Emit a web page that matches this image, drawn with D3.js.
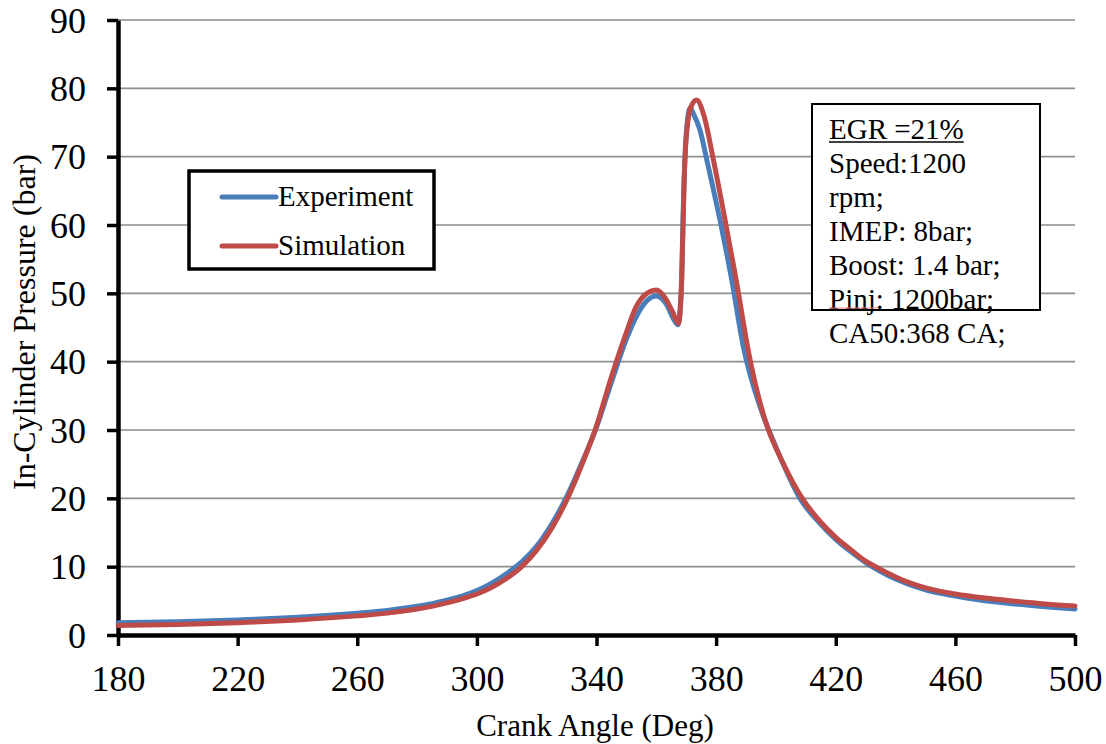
<!DOCTYPE html>
<html>
<head>
<meta charset="utf-8">
<script src="https://cdn.jsdelivr.net/npm/d3@7"></script>
<style>
  html, body { margin: 0; padding: 0; background: #fff; }
  svg text { font-family: "Liberation Serif", "Times New Roman", serif; fill: #000; }
</style>
</head>
<body>
<svg id="chart" width="1106" height="744"></svg>
<script>
// Crank-angle resolved in-cylinder pressure, measured vs simulated
const expAngle = [180, 200, 220, 240, 260, 270, 280, 290, 295, 300, 305, 310, 315, 320, 325, 330, 335, 340, 345, 350, 354.6, 357, 360, 363.5, 365.7, 367.2, 368.3, 369, 369.8, 371.3, 372.5, 374.6, 376.9, 381.3, 385.2, 389.1, 395, 400, 408, 415, 420, 425, 430, 435, 440, 450, 460, 470, 480, 490, 500];
const expPressure = [1.8, 1.95, 2.2, 2.6, 3.2, 3.6, 4.2, 5.1, 5.7, 6.5, 7.6, 9.0, 10.7, 13.0, 16.2, 20.2, 25.1, 30.4, 37.0, 43.3, 47.6, 49, 49.6, 48.3, 46.3, 45.4, 50, 62, 72, 77.1, 76.2, 73.9, 69.5, 60.7, 52, 42.2, 33, 27.5, 20, 16.2, 14.0, 12.2, 10.6, 9.3, 8.2, 6.6, 5.7, 5.0, 4.55, 4.15, 3.8];

const simAngle = [180, 200, 220, 240, 260, 270, 280, 290, 295, 300, 305, 310, 315, 320, 325, 330, 335, 340, 345, 350, 353, 356, 360, 363, 365.5, 367.4, 368.5, 369.3, 370.2, 371.9, 373.5, 375.8, 379.1, 383, 386.9, 390.8, 395, 397.5, 402, 408.8, 415, 420, 425, 430, 435, 440, 445, 450, 460, 470, 480, 490, 500];
const simPressure = [1.4, 1.55, 1.8, 2.2, 2.8, 3.2, 3.8, 4.7, 5.3, 6.0, 7.0, 8.3, 10.0, 12.4, 15.6, 19.7, 24.8, 30.6, 37.8, 44.3, 47.8, 49.7, 50.5, 49.3, 47.2, 45.6, 52, 66.5, 73.8, 77.6, 78.3, 76.2, 69.5, 60.7, 51.5, 41.5, 33.5, 30, 25.5, 20, 16.5, 14.3, 12.5, 10.8, 9.6, 8.5, 7.6, 6.9, 6.0, 5.4, 4.95, 4.55, 4.25];

const xTicks = [180, 220, 260, 300, 340, 380, 420, 460, 500];
const yTicks = [0, 10, 20, 30, 40, 50, 60, 70, 80, 90];

const legendLabels = ["Experiment", "Simulation"];
const seriesColors = ["#4A7EBB", "#BE4B48"];

const noteLines = ["EGR =21%", "Speed:1200", "rpm;", "IMEP: 8bar;", "Boost: 1.4 bar;", "Pinj: 1200bar;", "CA50:368 CA;"];

const svg = d3.select("#chart");
const margin = { left: 118, right: 1075, top: 20, bottom: 635 };

const x = d3.scaleLinear().domain([180, 500]).range([margin.left, margin.right]);
const y = d3.scaleLinear().domain([0, 90]).range([margin.bottom, margin.top]);

// horizontal gridlines
svg.append("g")
  .selectAll("line")
  .data(yTicks.filter(d => d > 0))
  .join("line")
  .attr("x1", x(180)).attr("x2", x(500))
  .attr("y1", d => y(d)).attr("y2", d => y(d))
  .attr("stroke", "#8e8e8e")
  .attr("stroke-width", 1.6);

// y axis
const yAxis = svg.append("g")
  .attr("transform", `translate(${margin.left},0)`)
  .call(d3.axisLeft(y).tickValues(yTicks).tickSize(11).tickPadding(21).tickSizeOuter(0));
yAxis.select(".domain").attr("stroke", "#000").attr("stroke-width", 4.5);
yAxis.selectAll(".tick line").attr("stroke", "#000").attr("stroke-width", 3.5);
yAxis.selectAll(".tick text")
  .style("font-family", "'Liberation Serif', serif")
  .style("font-size", "36px")
  .attr("dy", "0.34em");

// x axis
const xAxis = svg.append("g")
  .attr("transform", `translate(0,${margin.bottom})`)
  .call(d3.axisBottom(x).tickValues(xTicks).tickSize(11).tickPadding(19).tickSizeOuter(0));
xAxis.select(".domain").attr("stroke", "#000").attr("stroke-width", 4.5);
xAxis.selectAll(".tick line").attr("stroke", "#000").attr("stroke-width", 3.5);
xAxis.selectAll(".tick text")
  .style("font-family", "'Liberation Serif', serif")
  .style("font-size", "36px");

// axis titles
svg.append("text")
  .attr("x", 595)
  .attr("y", 736)
  .attr("text-anchor", "middle")
  .style("font-size", "31px")
  .text("Crank Angle (Deg)");

svg.append("text")
  .attr("transform", `translate(35,${322}) rotate(-90)`)
  .attr("text-anchor", "middle")
  .style("font-size", "32px")
  .text("In-Cylinder Pressure (bar)");

// series
const line = d3.line()
  .x(d => x(d[0]))
  .y(d => y(d[1]))
  .curve(d3.curveMonotoneX);

const series = [
  d3.zip(expAngle, expPressure),
  d3.zip(simAngle, simPressure)
];

svg.append("g")
  .selectAll("path")
  .data(series)
  .join("path")
  .attr("d", line)
  .attr("fill", "none")
  .attr("stroke", (d, i) => seriesColors[i])
  .attr("stroke-width", 5)
  .attr("stroke-linejoin", "round")
  .attr("stroke-linecap", "round");

// legend
const legend = svg.append("g");
legend.append("rect")
  .attr("x", 189).attr("y", 171)
  .attr("width", 245).attr("height", 98)
  .attr("fill", "#fff")
  .attr("stroke", "#000")
  .attr("stroke-width", 3.5);
legendLabels.forEach((label, i) => {
  const ly = 197 + i * 49;
  legend.append("line")
    .attr("x1", 222).attr("x2", 276)
    .attr("y1", ly).attr("y2", ly)
    .attr("stroke", seriesColors[i])
    .attr("stroke-width", 5)
    .attr("stroke-linecap", "round");
  legend.append("text")
    .attr("x", 278).attr("y", ly + 9)
    .style("font-size", "29px")
    .text(label);
});

// operating-condition note
const note = svg.append("g");
note.append("rect")
  .attr("x", 812).attr("y", 104)
  .attr("width", 228).attr("height", 206)
  .attr("fill", "#fff")
  .attr("stroke", "#000")
  .attr("stroke-width", 2);
noteLines.forEach((t, i) => {
  note.append("text")
    .attr("x", 829)
    .attr("y", 139 + i * 34)
    .style("font-size", "29px")
    .text(t);
});
// underline of the first note line
const firstW = note.select("text").node().getComputedTextLength();
note.append("line")
  .attr("x1", 829).attr("x2", 829 + firstW)
  .attr("y1", 142).attr("y2", 142)
  .attr("stroke", "#000").attr("stroke-width", 1.5);
// spell-check squiggle under "Pinj"
note.append("line")
  .attr("x1", 829).attr("x2", 878)
  .attr("y1", 308).attr("y2", 308)
  .attr("stroke", "#f08080").attr("stroke-width", 1);
</script>
</body>
</html>
